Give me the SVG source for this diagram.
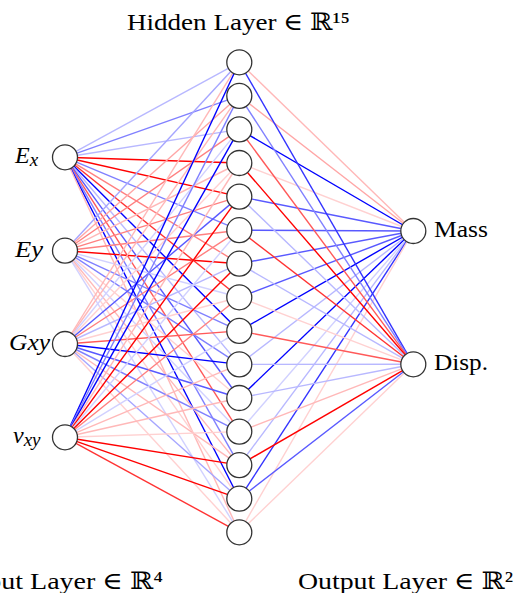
<svg xmlns="http://www.w3.org/2000/svg" width="516" height="593" viewBox="0 0 516 593">
<style>
.t{font-family:"Liberation Serif","DejaVu Serif",serif;font-size:24px;fill:#000}
.i{font-style:italic}
.n{fill:#fff;stroke:#333;stroke-width:1.3}
#edges line{stroke-width:1.4}
.B1{stroke:#d1d1ff}.B2{stroke:#b8b8ff}.B3{stroke:#a6a6ff}.B4{stroke:#8080ff}.B5{stroke:#5959ff}.B6{stroke:#3333ff}.B7{stroke:#0000ff}
.R1{stroke:#ffd1d1}.R2{stroke:#ffb8b8}.R3{stroke:#ffa6a6}.R4{stroke:#ff8080}.R5{stroke:#ff5959}.R6{stroke:#ff3333}.R7{stroke:#ff0000}
</style>
<g id="edges">
<!-- Ex -->
<line class="B2" x1="65" y1="157.3" x2="239.3" y2="62.3"/>
<line class="B4" x1="65" y1="157.3" x2="239.3" y2="95.9"/>
<line class="B2" x1="65" y1="157.3" x2="239.3" y2="129.4"/>
<line class="R7" x1="65" y1="157.3" x2="239.3" y2="163"/>
<line class="R7" x1="65" y1="157.3" x2="239.3" y2="196.6"/>
<line class="B4" x1="65" y1="157.3" x2="239.3" y2="230.2"/>
<line class="R4" x1="65" y1="157.3" x2="239.3" y2="263.7"/>
<line class="R6" x1="65" y1="157.3" x2="239.3" y2="297.3"/>
<line class="B7" x1="65" y1="157.3" x2="239.3" y2="330.9"/>
<line class="B2" x1="65" y1="157.3" x2="239.3" y2="364.4"/>
<line class="B5" x1="65" y1="157.3" x2="239.3" y2="398"/>
<line class="R5" x1="65" y1="157.3" x2="239.3" y2="431.6"/>
<line class="B4" x1="65" y1="157.3" x2="239.3" y2="465.1"/>
<line class="B7" x1="65" y1="157.3" x2="239.3" y2="498.7"/>
<line class="R2" x1="65" y1="157.3" x2="239.3" y2="532.3"/>
<!-- Ey -->
<line class="B3" x1="65" y1="250.7" x2="239.3" y2="62.3"/>
<line class="R3" x1="65" y1="250.7" x2="239.3" y2="95.9"/>
<line class="R4" x1="65" y1="250.7" x2="239.3" y2="129.4"/>
<line class="R2" x1="65" y1="250.7" x2="239.3" y2="163"/>
<line class="R4" x1="65" y1="250.7" x2="239.3" y2="196.6"/>
<line class="R4" x1="65" y1="250.7" x2="239.3" y2="230.2"/>
<line class="R7" x1="65" y1="250.7" x2="239.3" y2="263.7"/>
<line class="B1" x1="65" y1="250.7" x2="239.3" y2="297.3"/>
<line class="B4" x1="65" y1="250.7" x2="239.3" y2="330.9"/>
<line class="B4" x1="65" y1="250.7" x2="239.3" y2="364.4"/>
<line class="R1" x1="65" y1="250.7" x2="239.3" y2="398"/>
<line class="B1" x1="65" y1="250.7" x2="239.3" y2="431.6"/>
<line class="R2" x1="65" y1="250.7" x2="239.3" y2="465.1"/>
<line class="R1" x1="65" y1="250.7" x2="239.3" y2="498.7"/>
<line class="B1" x1="65" y1="250.7" x2="239.3" y2="532.3"/>
<!-- Gxy -->
<line class="R2" x1="65" y1="344" x2="239.3" y2="62.3"/>
<line class="R2" x1="65" y1="344" x2="239.3" y2="95.9"/>
<line class="B1" x1="65" y1="344" x2="239.3" y2="129.4"/>
<line class="R1" x1="65" y1="344" x2="239.3" y2="163"/>
<line class="B5" x1="65" y1="344" x2="239.3" y2="196.6"/>
<line class="R4" x1="65" y1="344" x2="239.3" y2="230.2"/>
<line class="B2" x1="65" y1="344" x2="239.3" y2="263.7"/>
<line class="R1" x1="65" y1="344" x2="239.3" y2="297.3"/>
<line class="R5" x1="65" y1="344" x2="239.3" y2="330.9"/>
<line class="B7" x1="65" y1="344" x2="239.3" y2="364.4"/>
<line class="B5" x1="65" y1="344" x2="239.3" y2="398"/>
<line class="B4" x1="65" y1="344" x2="239.3" y2="431.6"/>
<line class="R2" x1="65" y1="344" x2="239.3" y2="465.1"/>
<line class="B3" x1="65" y1="344" x2="239.3" y2="498.7"/>
<line class="R1" x1="65" y1="344" x2="239.3" y2="532.3"/>
<!-- vxy -->
<line class="B7" x1="65" y1="437.3" x2="239.3" y2="62.3"/>
<line class="B4" x1="65" y1="437.3" x2="239.3" y2="95.9"/>
<line class="B7" x1="65" y1="437.3" x2="239.3" y2="129.4"/>
<line class="R2" x1="65" y1="437.3" x2="239.3" y2="163"/>
<line class="R7" x1="65" y1="437.3" x2="239.3" y2="196.6"/>
<line class="B1" x1="65" y1="437.3" x2="239.3" y2="230.2"/>
<line class="R7" x1="65" y1="437.3" x2="239.3" y2="263.7"/>
<line class="R4" x1="65" y1="437.3" x2="239.3" y2="297.3"/>
<line class="B1" x1="65" y1="437.3" x2="239.3" y2="330.9"/>
<line class="R2" x1="65" y1="437.3" x2="239.3" y2="364.4"/>
<line class="R2" x1="65" y1="437.3" x2="239.3" y2="398"/>
<line class="R1" x1="65" y1="437.3" x2="239.3" y2="431.6"/>
<line class="R7" x1="65" y1="437.3" x2="239.3" y2="465.1"/>
<line class="R7" x1="65" y1="437.3" x2="239.3" y2="498.7"/>
<line class="R6" x1="65" y1="437.3" x2="239.3" y2="532.3"/>
<!-- hidden to Mass -->
<line class="R2" x1="239.3" y1="62.3" x2="413.3" y2="231"/>
<line class="R3" x1="239.3" y1="95.9" x2="413.3" y2="231"/>
<line class="B7" x1="239.3" y1="129.4" x2="413.3" y2="231"/>
<line class="R1" x1="239.3" y1="163" x2="413.3" y2="231"/>
<line class="B5" x1="239.3" y1="196.6" x2="413.3" y2="231"/>
<line class="B5" x1="239.3" y1="230.2" x2="413.3" y2="231"/>
<line class="B5" x1="239.3" y1="263.7" x2="413.3" y2="231"/>
<line class="B5" x1="239.3" y1="297.3" x2="413.3" y2="231"/>
<line class="B7" x1="239.3" y1="330.9" x2="413.3" y2="231"/>
<line class="B2" x1="239.3" y1="364.4" x2="413.3" y2="231"/>
<line class="B7" x1="239.3" y1="398" x2="413.3" y2="231"/>
<line class="B1" x1="239.3" y1="431.6" x2="413.3" y2="231"/>
<line class="B2" x1="239.3" y1="465.1" x2="413.3" y2="231"/>
<line class="B6" x1="239.3" y1="498.7" x2="413.3" y2="231"/>
<line class="R1" x1="239.3" y1="532.3" x2="413.3" y2="231"/>
<!-- hidden to Disp. -->
<line class="B6" x1="239.3" y1="62.3" x2="413.3" y2="364.3"/>
<line class="B4" x1="239.3" y1="95.9" x2="413.3" y2="364.3"/>
<line class="R5" x1="239.3" y1="129.4" x2="413.3" y2="364.3"/>
<line class="R7" x1="239.3" y1="163" x2="413.3" y2="364.3"/>
<line class="B2" x1="239.3" y1="196.6" x2="413.3" y2="364.3"/>
<line class="R6" x1="239.3" y1="230.2" x2="413.3" y2="364.3"/>
<line class="B2" x1="239.3" y1="263.7" x2="413.3" y2="364.3"/>
<line class="R1" x1="239.3" y1="297.3" x2="413.3" y2="364.3"/>
<line class="R5" x1="239.3" y1="330.9" x2="413.3" y2="364.3"/>
<line class="B2" x1="239.3" y1="364.4" x2="413.3" y2="364.3"/>
<line class="B2" x1="239.3" y1="398" x2="413.3" y2="364.3"/>
<line class="R2" x1="239.3" y1="431.6" x2="413.3" y2="364.3"/>
<line class="R7" x1="239.3" y1="465.1" x2="413.3" y2="364.3"/>
<line class="B5" x1="239.3" y1="498.7" x2="413.3" y2="364.3"/>
<line class="R1" x1="239.3" y1="532.3" x2="413.3" y2="364.3"/>
</g>
<g id="in-Ex"><circle class="n" cx="65" cy="157.3" r="12.5"/><text class="t i" x="15" y="163.3" font-size="25">E<tspan font-size="19" dy="3">x</tspan></text></g>
<g id="in-Ey"><circle class="n" cx="65" cy="250.7" r="12.5"/><text class="t i" x="15" y="256.7" textLength="28" lengthAdjust="spacingAndGlyphs">Ey</text></g>
<g id="in-Gxy"><circle class="n" cx="65" cy="344" r="12.5"/><text class="t i" x="9" y="350" textLength="41" lengthAdjust="spacingAndGlyphs">Gxy</text></g>
<g id="in-vxy"><circle class="n" cx="65" cy="437.3" r="12.5"/><text class="t i" x="13" y="443.3" font-size="25">v<tspan font-size="19" dy="3">xy</tspan></text></g>
<g id="h0"><circle class="n" cx="239.3" cy="62.3" r="12.5"/></g>
<g id="h1"><circle class="n" cx="239.3" cy="95.9" r="12.5"/></g>
<g id="h2"><circle class="n" cx="239.3" cy="129.4" r="12.5"/></g>
<g id="h3"><circle class="n" cx="239.3" cy="163" r="12.5"/></g>
<g id="h4"><circle class="n" cx="239.3" cy="196.6" r="12.5"/></g>
<g id="h5"><circle class="n" cx="239.3" cy="230.2" r="12.5"/></g>
<g id="h6"><circle class="n" cx="239.3" cy="263.7" r="12.5"/></g>
<g id="h7"><circle class="n" cx="239.3" cy="297.3" r="12.5"/></g>
<g id="h8"><circle class="n" cx="239.3" cy="330.9" r="12.5"/></g>
<g id="h9"><circle class="n" cx="239.3" cy="364.4" r="12.5"/></g>
<g id="h10"><circle class="n" cx="239.3" cy="398" r="12.5"/></g>
<g id="h11"><circle class="n" cx="239.3" cy="431.6" r="12.5"/></g>
<g id="h12"><circle class="n" cx="239.3" cy="465.1" r="12.5"/></g>
<g id="h13"><circle class="n" cx="239.3" cy="498.7" r="12.5"/></g>
<g id="h14"><circle class="n" cx="239.3" cy="532.3" r="12.5"/></g>
<g id="out-Mass"><circle class="n" cx="413.3" cy="231" r="12.5"/><text class="t" x="434" y="237" textLength="54" lengthAdjust="spacingAndGlyphs">Mass</text></g>
<g id="out-Disp"><circle class="n" cx="413.3" cy="364.3" r="12.5"/><text class="t" x="434" y="370" textLength="54" lengthAdjust="spacingAndGlyphs">Disp.</text></g>
<g id="titles">
<text class="t" x="127" y="30" textLength="223" lengthAdjust="spacingAndGlyphs">Hidden Layer ∈ ℝ¹⁵</text>
<text class="t" x="-36" y="589" textLength="199" lengthAdjust="spacingAndGlyphs">Input Layer ∈ ℝ⁴</text>
<text class="t" x="298" y="589" textLength="215" lengthAdjust="spacingAndGlyphs">Output Layer ∈ ℝ²</text>
</g>
</svg>
